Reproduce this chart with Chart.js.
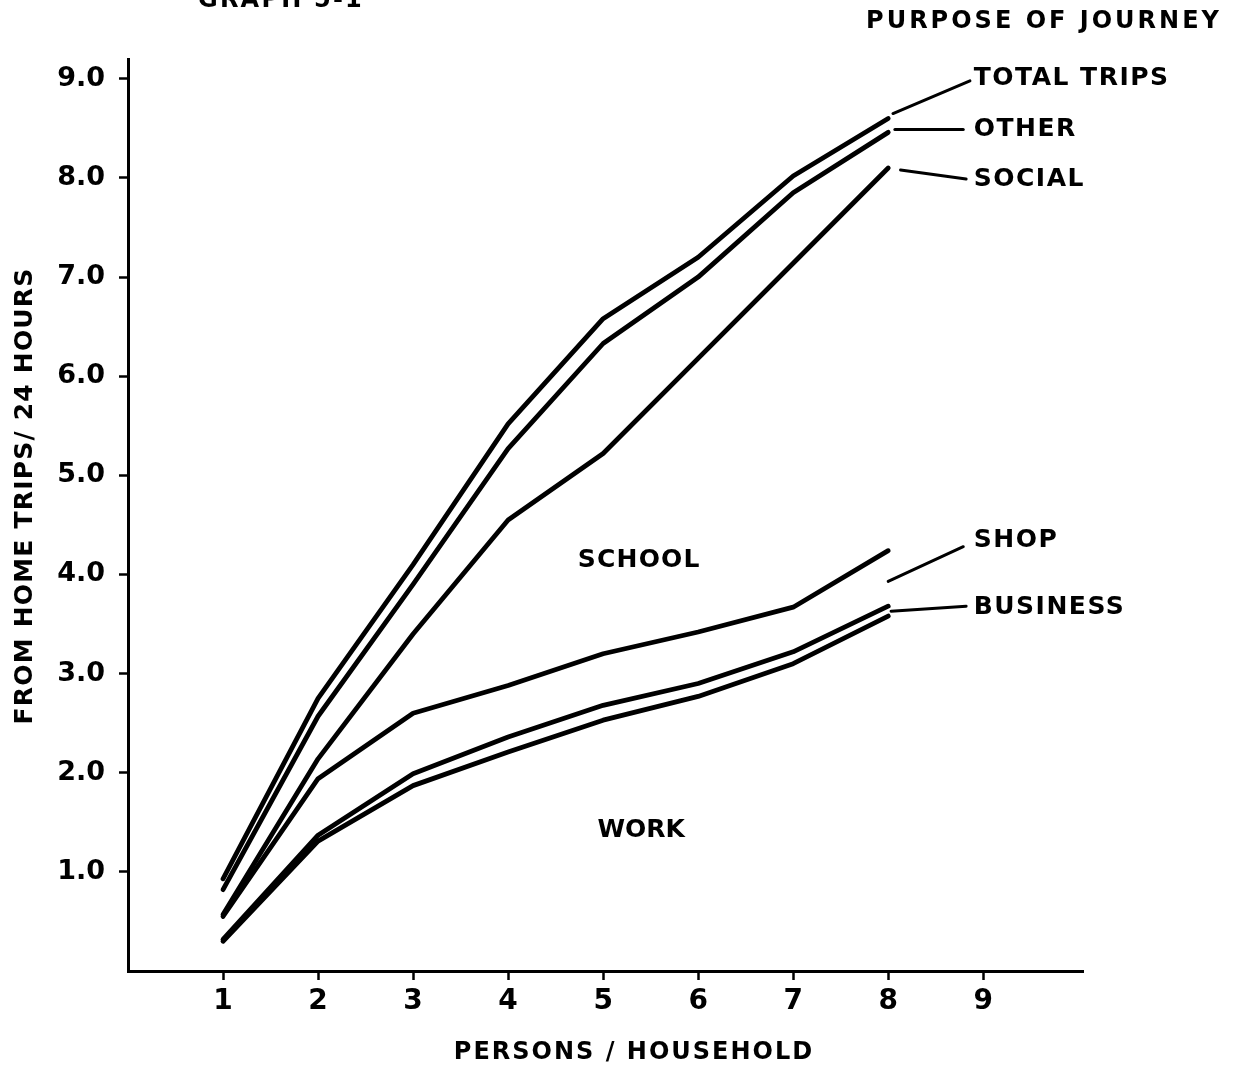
<!DOCTYPE html>
<html>
<head>
<meta charset="utf-8">
<title>Graph 5-1</title>
<script src="https://cdn.jsdelivr.net/npm/chart.js@4.4.9/dist/chart.umd.min.js"></script>
<style>
    body { margin: 0; background: #fff; }
    #caixaGrafico { width: 1233px; height: 1067px; }
</style>
</head>
<body>
<div id="caixaGrafico"><canvas id="chartTrips"></canvas></div>
<script>
// persons per household (x) and trips from home per 24 hours (y), cumulative by purpose
const pessoas = [1, 2, 3, 4, 5, 6, 7, 8];
const totalTrips = [0.93, 2.75, 4.10, 5.52, 6.58, 7.20, 8.02, 8.60];
const other = [0.82, 2.57, 3.90, 5.27, 6.33, 7.00, 7.85, 8.46];
const social = [0.57, 2.14, 3.40, 4.55, 5.22, 6.18, 7.14, 8.10];
const shop = [0.55, 1.94, 2.60, 2.88, 3.20, 3.42, 3.67, 4.24];
const business = [0.32, 1.37, 1.99, 2.36, 2.68, 2.90, 3.22, 3.68];
const work = [0.30, 1.31, 1.87, 2.21, 2.53, 2.77, 3.10, 3.58];

const xTicks = [1, 2, 3, 4, 5, 6, 7, 8, 9];
const yTicks = [1, 2, 3, 4, 5, 6, 7, 8, 9];

const fonte = (tam) => `bold ${tam}px "DejaVu Sans", sans-serif`;

// series labels at the right with their leader lines (data units)
const rotulos = [
    { texto: 'TOTAL TRIPS', de: [8.05, 8.65], ate: [8.86, 8.98], y: 9.0 },
    { texto: 'OTHER', de: [8.07, 8.49], ate: [8.79, 8.49], y: 8.49 },
    { texto: 'SOCIAL', de: [8.13, 8.08], ate: [8.82, 7.99], y: 7.98 },
    { texto: 'SHOP', de: [8.00, 3.93], ate: [8.79, 4.28], y: 4.34 },
    { texto: 'BUSINESS', de: [8.03, 3.63], ate: [8.82, 3.68], y: 3.67 }
];

// band names between the lines
const faixas = [
    { texto: 'SCHOOL', x: 5.38, y: 4.14, espaco: 1.2 },
    { texto: 'WORK', x: 5.4, y: 1.42, espaco: 0 }
];

const escreve = (ctx, texto, x, y, tam, espaco, align = 'left', base = 'alphabetic') => {
    ctx.font = fonte(tam);
    ctx.letterSpacing = `${espaco}px`;
    ctx.textAlign = align;
    ctx.textBaseline = base;
    ctx.fillText(texto, x, y);
};

const anotacoes = {
    id: 'anotacoes',
    afterDraw: (chart) => {
        const ctx = chart.ctx;
        const sx = chart.scales.x;
        const sy = chart.scales.y;
        ctx.save();
        ctx.fillStyle = '#000';
        ctx.strokeStyle = '#000';

        escreve(ctx, 'GRAPH 5-1', 281, 7, 24, 2.2, 'center');
        escreve(ctx, 'PURPOSE OF JOURNEY', 1044, 28, 24, 3, 'center');
        escreve(ctx, 'PERSONS / HOUSEHOLD', 634, 1059, 24, 2, 'center');

        ctx.save();
        ctx.translate(32, 496);
        ctx.rotate(-Math.PI / 2);
        escreve(ctx, 'FROM HOME TRIPS/ 24 HOURS', 0, 0, 25, 1.2, 'center');
        ctx.restore();

        ctx.lineWidth = 3;
        ctx.lineCap = 'round';
        rotulos.forEach(r => {
            ctx.beginPath();
            ctx.moveTo(sx.getPixelForValue(r.de[0]), sy.getPixelForValue(r.de[1]));
            ctx.lineTo(sx.getPixelForValue(r.ate[0]), sy.getPixelForValue(r.ate[1]));
            ctx.stroke();
            escreve(ctx, r.texto, sx.getPixelForValue(8.9), sy.getPixelForValue(r.y), 25, 1.5, 'left', 'middle');
        });

        faixas.forEach(f => {
            escreve(ctx, f.texto, sx.getPixelForValue(f.x), sy.getPixelForValue(f.y), 25, f.espaco, 'center', 'middle');
        });
        ctx.restore();
    }
};

const series = [totalTrips, other, social, shop, business, work];

new Chart(document.getElementById('chartTrips'), {
    type: 'line',
    data: {
        datasets: series.map(valores => ({
            data: pessoas.map((p, i) => ({ x: p, y: valores[i] })),
            borderColor: '#000',
            borderWidth: 4.8,
            borderCapStyle: 'round',
            borderJoinStyle: 'round',
            pointRadius: 0,
            tension: 0,
            fill: false
        }))
    },
    options: {
        responsive: true,
        maintainAspectRatio: false,
        animation: false,
        layout: { padding: { top: 59, right: 150, left: 0, bottom: 0 } },
        plugins: {
            legend: { display: false },
            tooltip: { enabled: false }
        },
        scales: {
            x: {
                type: 'linear',
                min: 0,
                max: 10.05,
                afterBuildTicks: (scale) => { scale.ticks = xTicks.map(v => ({ value: v })); },
                afterFit: (scale) => { scale.height = 96; },
                ticks: {
                    color: '#000',
                    font: { family: '"DejaVu Sans", sans-serif', size: 28, weight: 'bold' },
                    padding: 5,
                    maxRotation: 0,
                    callback: (v) => `${v}`
                },
                grid: { drawOnChartArea: false, drawTicks: true, tickLength: 9, tickWidth: 2.5, tickColor: '#000' },
                border: { display: true, color: '#000', width: 3 }
            },
            y: {
                type: 'linear',
                min: 0,
                max: 9.2,
                afterBuildTicks: (scale) => { scale.ticks = yTicks.map(v => ({ value: v })); },
                afterFit: (scale) => { scale.width = 128; },
                ticks: {
                    color: '#000',
                    font: { family: '"DejaVu Sans", sans-serif', size: 27, weight: 'bold' },
                    padding: 14,
                    callback: (v) => v.toFixed(1)
                },
                grid: { drawOnChartArea: false, drawTicks: true, tickLength: 9, tickWidth: 2.5, tickColor: '#000' },
                border: { display: true, color: '#000', width: 3 }
            }
        }
    },
    plugins: [anotacoes]
});
</script>
</body>
</html>
